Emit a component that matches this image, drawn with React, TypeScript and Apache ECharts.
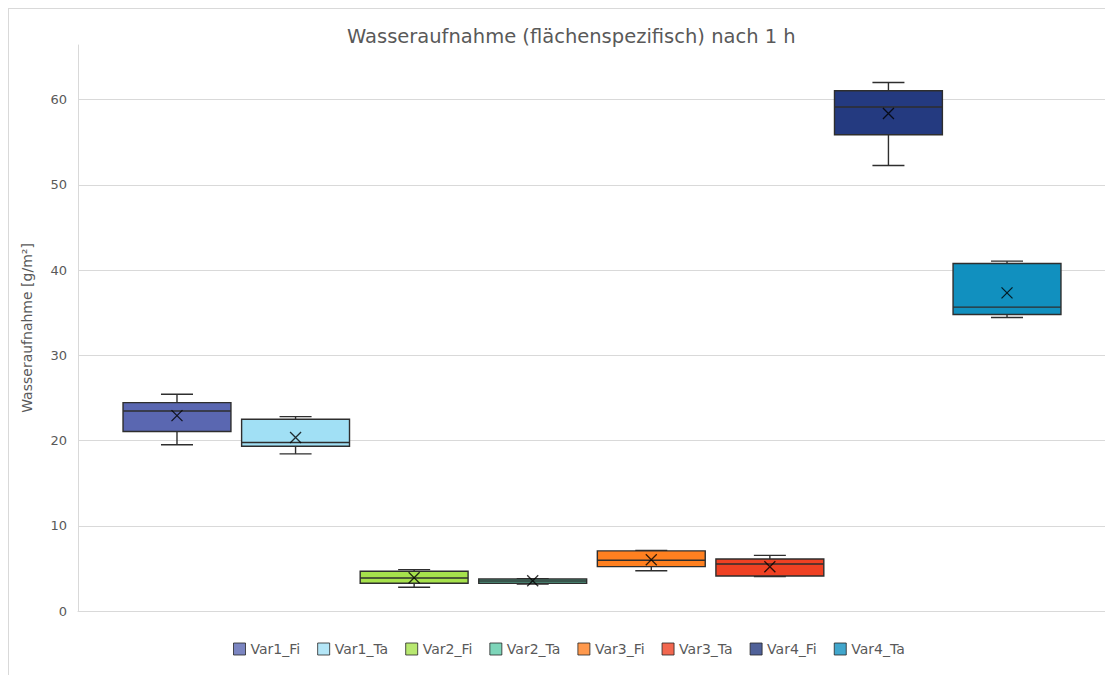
import React, { useEffect, useRef } from "react";
import * as echarts from "echarts";

const seriesNames = ["Var1_Fi", "Var1_Ta", "Var2_Fi", "Var2_Ta", "Var3_Fi", "Var3_Ta", "Var4_Fi", "Var4_Ta"];
const seriesColors = ["#5A67B1", "#A1E0F5", "#A6E24C", "#5CCBA8", "#FF8020", "#EF4123", "#243A80", "#1190BF"];
// [min, Q1, median, Q3, max]
const boxValues = [
  [19.5, 21.05, 23.47, 24.45, 25.43],
  [18.43, 19.33, 19.76, 22.5, 22.8],
  [2.78, 3.25, 3.87, 4.66, 4.85],
  [3.17, 3.25, 3.52, 3.76, 3.8],
  [4.73, 5.2, 5.95, 7.05, 7.1],
  [4.03, 4.11, 5.52, 6.1, 6.53],
  [52.27, 55.87, 59.12, 61.03, 62.0],
  [34.43, 34.78, 35.65, 40.76, 41.04],
];
const meanValues = [22.92, 20.35, 3.9, 3.55, 6.02, 5.2, 58.37, 37.32];
const yTicks = [0, 10, 20, 30, 40, 50, 60];

const Y_MAX = 66.4;
const FONT = "'DejaVu Sans', 'Noto Sans', sans-serif";
const TEXT_COLOR = "#595959";
const EDGE = "#2e2e2e";

function renderBox(params: any, api: any) {
  const idx = api.value(0);
  const mn = api.value(1);
  const q1 = api.value(2);
  const md = api.value(3);
  const q3 = api.value(4);
  const mx = api.value(5);
  const band = api.size([1, 0])[0];
  const boxW = band * 0.91;
  const capW = band * 0.27;
  const pMin = api.coord([idx, mn]);
  const pQ1 = api.coord([idx, q1]);
  const pMd = api.coord([idx, md]);
  const pQ3 = api.coord([idx, q3]);
  const pMx = api.coord([idx, mx]);
  const cx = pMd[0];
  const color = seriesColors[params.dataIndex];
  const lineStyle = { stroke: EDGE, lineWidth: 1.4 };
  return {
    type: "group",
    children: [
      { type: "line", shape: { x1: cx, y1: pQ3[1], x2: cx, y2: pMx[1] }, style: lineStyle },
      { type: "line", shape: { x1: cx, y1: pQ1[1], x2: cx, y2: pMin[1] }, style: lineStyle },
      { type: "line", shape: { x1: cx - capW / 2, y1: pMx[1], x2: cx + capW / 2, y2: pMx[1] }, style: lineStyle },
      { type: "line", shape: { x1: cx - capW / 2, y1: pMin[1], x2: cx + capW / 2, y2: pMin[1] }, style: lineStyle },
      {
        type: "rect",
        shape: { x: cx - boxW / 2, y: pQ3[1], width: boxW, height: pQ1[1] - pQ3[1] },
        style: { fill: color, stroke: EDGE, lineWidth: 1.4 },
      },
      { type: "line", shape: { x1: cx - boxW / 2, y1: pMd[1], x2: cx + boxW / 2, y2: pMd[1] }, style: lineStyle },
    ],
  };
}

export default function App() {
  const ref = useRef<HTMLDivElement>(null);
  useEffect(() => {
    document.documentElement.style.overflow = "hidden";
    document.body.style.overflow = "hidden";
    const chart = echarts.init(ref.current!, null, { renderer: "svg" });
    const option: any = {
      animation: false,
      backgroundColor: "#fff",
      title: {
        text: "Wasseraufnahme (flächenspezifisch) nach 1 h",
        left: 333,
        top: 12,
        textStyle: { fontFamily: FONT, fontSize: 19.5, fontWeight: "normal", color: TEXT_COLOR },
      },
      legend: {
        top: 628,
        left: 219,
        icon: "rect",
        itemWidth: 12,
        itemHeight: 12,
        itemGap: 17,
        textStyle: { fontFamily: FONT, fontSize: 14, color: TEXT_COLOR },
        data: seriesNames.map((n, i) => ({
          name: n,
          itemStyle: { color: seriesColors[i], borderColor: "#262626", borderWidth: 1 },
        })),
      },
      grid: [
        { left: 69, right: 0, top: 36, bottom: 64, containLabel: false },
        { left: 108.7, right: 46.7, top: 36, bottom: 64, containLabel: false },
      ],
      xAxis: [
        {
          type: "category",
          gridIndex: 0,
          data: [""],
          axisLine: { show: true, lineStyle: { color: "#d9d9d9" } },
          axisTick: { show: false },
          axisLabel: { show: false },
        },
        {
          type: "category",
          gridIndex: 1,
          data: seriesNames,
          axisLine: { show: false },
          axisTick: { show: false },
          axisLabel: { show: false },
        },
      ],
      yAxis: [
        {
          type: "value",
          gridIndex: 0,
          min: 0,
          max: Y_MAX,
          interval: 10,
          name: "Wasseraufnahme [g/m²]",
          nameLocation: "middle",
          nameGap: 44,
          nameTextStyle: { fontFamily: FONT, fontSize: 14, color: TEXT_COLOR },
          axisLine: { show: true, lineStyle: { color: "#d9d9d9" } },
          axisTick: { show: false },
          axisLabel: {
            fontFamily: FONT,
            fontSize: 13,
            color: TEXT_COLOR,
            margin: 11,
            showMaxLabel: false,
            formatter: (v: number) => (yTicks.indexOf(v) >= 0 ? String(v) : ""),
          },
          splitLine: { show: true, showMaxLine: false, lineStyle: { color: "#d9d9d9", width: 1 } },
        },
        {
          type: "value",
          gridIndex: 1,
          min: 0,
          max: Y_MAX,
          interval: 10,
          axisLine: { show: false },
          axisTick: { show: false },
          axisLabel: { show: false },
          splitLine: { show: false },
        },
      ],
      series: [
        {
          type: "custom",
          xAxisIndex: 1,
          yAxisIndex: 1,
          renderItem: renderBox,
          encode: { x: 0, y: [1, 2, 3, 4, 5] },
          data: boxValues.map((v, i) => [i, ...v]),
          z: 3,
          silent: true,
        },
        ...seriesNames.map((n, i) => ({
          type: "scatter",
          name: n,
          xAxisIndex: 1,
          yAxisIndex: 1,
          symbol: "path://M0,0L10,10M10,0L0,10",
          symbolSize: 11,
          data: [[i, meanValues[i]]],
          itemStyle: { color: "transparent", borderColor: "#000", borderWidth: 1.3 },
          emphasis: { disabled: true },
          z: 5,
        })),
      ],
    };
    chart.setOption(option);
    return () => chart.dispose();
  }, []);
  return (
    <div
      ref={ref}
      style={{
        width: 1105,
        height: 667,
        borderLeft: "1px solid #d9d9d9",
        borderTop: "1px solid #d9d9d9",
        boxSizing: "border-box",
      }}
    />
  );
}
